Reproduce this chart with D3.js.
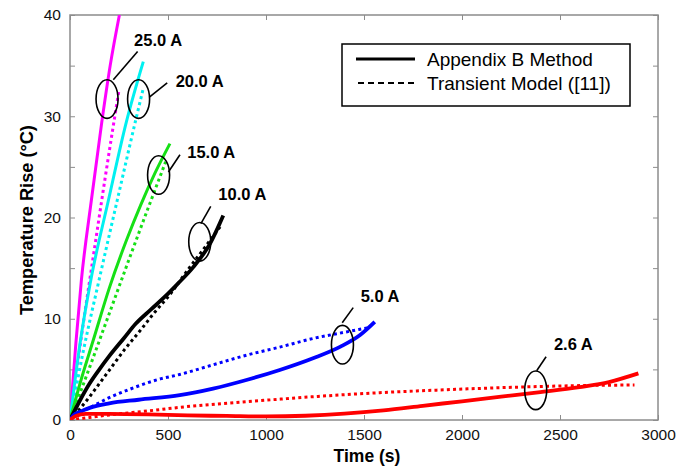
<!DOCTYPE html>
<html>
<head>
<meta charset="utf-8">
<script src="https://cdn.jsdelivr.net/npm/d3@7"></script>
<style>
  html, body { margin: 0; padding: 0; background: #fff; }
  svg { display: block; }
</style>
</head>
<body>
<svg id="chart" width="693" height="467"></svg>
<script>
// Axis ticks
const xTicks = [0, 500, 1000, 1500, 2000, 2500, 3000];
const yTicks = [0, 5, 10, 15, 20, 25, 30, 35, 40];
const yTickLabels = [0, 10, 20, 30, 40];

// Measured temperature rise (Appendix B Method), [time s, rise °C]
const measured25 = [[0,0],[30,7.6],[58,13.8],[109,21.7],[162,29.4],[205,35],[252,40]];
const measured20 = [[0,0],[50,7.4],[106,13.8],[196,21.7],[287,29.4],[374,35.4]];
const measured15 = [[0,0],[60,4.2],[119,7.9],[200,13],[289,17.8],[360,21.2],[434,24.4],[510,27.3]];
const measured10 = [[0,0],[50,1.9],[100,3.6],[150,5.0],[200,6.3],[276,8.1],[335,9.5],[412,10.9],[480,12.1],[547,13.4],[629,15.1],[714,17.4],[782,20.2]];
const measured5  = [[0,0],[20,0.5],[50,0.8],[100,1.2],[200,1.65],[350,2.0],[560,2.45],[730,3.1],[900,3.95],[1070,4.94],[1240,6.1],[1380,7.25],[1480,8.4],[1555,9.7]];
const measured26 = [[0,0],[30,0.4],[80,0.6],[200,0.6],[400,0.55],[600,0.45],[800,0.4],[1000,0.35],[1200,0.42],[1400,0.62],[1600,0.95],[1800,1.4],[2000,1.85],[2200,2.3],[2400,2.75],[2600,3.25],[2750,3.75],[2900,4.6]];

// Transient model ([11]) predictions, [time s, rise °C]
const model25 = [[0,0],[60,8.5],[120,16.3],[180,24],[250,32.6]];
const model20 = [[0,0],[70,7],[148,13.8],[241,21.7],[335,29.6],[372,32.6]];
const model15 = [[0,0],[100,5.2],[200,10.5],[300,15.8],[400,21],[488,25.5]];
const model10 = [[0,0],[50,1.1],[100,2.3],[150,3.6],[200,4.9],[280,7],[361,8.9],[430,10.6],[510,12.4],[600,14.8],[690,17.1],[774,19.3]];
const model5  = [[0,0],[50,0.7],[100,1.2],[200,2.2],[300,3.0],[450,4.0],[560,4.5],[730,5.45],[900,6.4],[1070,7.2],[1240,8.05],[1410,8.7],[1530,9.15]];
const model26 = [[0,0],[100,0.25],[200,0.5],[400,0.9],[560,1.25],[900,1.8],[1240,2.3],[1580,2.7],[1870,2.95],[2210,3.2],[2550,3.38],[2880,3.46]];

const currentLabels = ["25.0 A", "20.0 A", "15.0 A", "10.0 A", "5.0 A", "2.6 A"];
const seriesColors  = ["#ff00ff", "#00f0f0", "#16e016", "#000000", "#0000ff", "#ff0000"];
const measuredSets  = [measured25, measured20, measured15, measured10, measured5, measured26];
const modelSets     = [model25, model20, model15, model10, model5, model26];

// Callouts: ellipse centre, leader start/end and label anchor, in data units
const calloutEllipse = [[189,31.7],[350,31.7],[452,24.2],[662,17.6],[1390,7.44],[2376,2.93]];
const calloutLeaderFrom = [[221,33.6],[405,31.9],[502,24.5],[668,19.4],[1389,9.6],[2381,4.87]];
const calloutLeaderTo   = [[345,36.4],[496,33.3],[561,26.2],[718,21.1],[1445,11.1],[2429,6.25]];
const calloutLabelAt    = [[327,36.9],[539,32.9],[598,25.9],[757,21.7],[1483,11.7],[2469,6.9]];

const legendItems = ["Appendix B Method", "Transient Model ([11])"];

const svg = d3.select("#chart");
const plotL = 70, plotR = 658, plotT = 15, plotB = 420;

const x = d3.scaleLinear().domain([0, 3000]).range([plotL, plotR]);
const y = d3.scaleLinear().domain([0, 40]).range([plotB, plotT]);

const frameColor = "#8c8c8c";
const font = "'Liberation Sans', Arial, Helvetica, sans-serif";

svg.append("rect").attr("width", 693).attr("height", 467).attr("fill", "#fff");

svg.append("defs").append("clipPath").attr("id", "plot-clip")
  .append("rect").attr("x", plotL).attr("y", plotT)
  .attr("width", plotR - plotL).attr("height", plotB - plotT);

// Axes: inward ticks on all four sides
const tickLen = 5;
const axBottom = d3.axisBottom(x).tickValues(xTicks).tickSizeInner(-tickLen).tickSizeOuter(0)
  .tickPadding(9).tickFormat(d3.format("d"));
const axTop = d3.axisTop(x).tickValues(xTicks).tickSizeInner(-tickLen).tickSizeOuter(0).tickFormat("");
const axLeft = d3.axisLeft(y).tickValues(yTicks).tickSizeInner(-tickLen).tickSizeOuter(0).tickPadding(9)
  .tickFormat(d => yTickLabels.includes(d) ? d : "");
const axRight = d3.axisRight(y).tickValues(yTicks).tickSizeInner(-tickLen).tickSizeOuter(0).tickFormat("");

function styleAxis(g) {
  g.select(".domain").remove();
  g.selectAll(".tick line").attr("stroke", frameColor).attr("stroke-width", 1);
  g.selectAll(".tick text").attr("fill", "#111").style("font-family", font).style("font-size", "15.5px");
}
svg.append("g").attr("transform", `translate(0,${plotB})`).call(axBottom).call(styleAxis);
svg.append("g").attr("transform", `translate(0,${plotT})`).call(axTop).call(styleAxis);
svg.append("g").attr("transform", `translate(${plotL},0)`).call(axLeft).call(styleAxis);
svg.append("g").attr("transform", `translate(${plotR},0)`).call(axRight).call(styleAxis);

// Plot frame
svg.append("rect").attr("x", plotL).attr("y", plotT)
  .attr("width", plotR - plotL).attr("height", plotB - plotT)
  .attr("fill", "none").attr("stroke", frameColor).attr("stroke-width", 1.5);

// Curves
const line = d3.line().x(d => x(d[0])).y(d => y(d[1])).curve(d3.curveMonotoneX);
const plot = svg.append("g").attr("clip-path", "url(#plot-clip)");

modelSets.forEach((data, i) => {
  plot.append("path").datum(data).attr("d", line)
    .attr("fill", "none").attr("stroke", seriesColors[i])
    .attr("stroke-width", 3).attr("stroke-dasharray", "3,3.2");
});
measuredSets.forEach((data, i) => {
  plot.append("path").datum(data).attr("d", line)
    .attr("fill", "none").attr("stroke", seriesColors[i])
    .attr("stroke-width", i >= 3 ? 3.8 : 3).attr("stroke-linejoin", "round");
});

// Callouts
const callouts = svg.append("g");
currentLabels.forEach((label, i) => {
  const [ex, ey] = calloutEllipse[i];
  callouts.append("ellipse")
    .attr("cx", x(ex)).attr("cy", y(ey)).attr("rx", 11).attr("ry", 19.3)
    .attr("fill", "none").attr("stroke", "#000").attr("stroke-width", 1.6);
  callouts.append("line")
    .attr("x1", x(calloutLeaderFrom[i][0])).attr("y1", y(calloutLeaderFrom[i][1]))
    .attr("x2", x(calloutLeaderTo[i][0])).attr("y2", y(calloutLeaderTo[i][1]))
    .attr("stroke", "#000").attr("stroke-width", 1.6);
  callouts.append("text")
    .attr("x", x(calloutLabelAt[i][0])).attr("y", y(calloutLabelAt[i][1]))
    .attr("fill", "#000").style("font-family", font).style("font-weight", "bold")
    .style("font-size", "16.5px").text(label);
});

// Legend
const legend = svg.append("g");
legend.append("rect").attr("x", 342).attr("y", 44).attr("width", 288).attr("height", 62)
  .attr("fill", "#fff").attr("stroke", "#000").attr("stroke-width", 1.5);
legend.append("line").attr("x1", 356).attr("x2", 415).attr("y1", 59).attr("y2", 59)
  .attr("stroke", "#000").attr("stroke-width", 3);
legend.append("line").attr("x1", 358).attr("x2", 417).attr("y1", 83).attr("y2", 83)
  .attr("stroke", "#000").attr("stroke-width", 2).attr("stroke-dasharray", "6,4");
legendItems.forEach((t, i) => {
  legend.append("text").attr("x", 427).attr("y", 66 + i * 24)
    .attr("fill", "#000").style("font-family", font).style("font-size", "19px").text(t);
});

// Axis titles
svg.append("text").attr("x", (plotL + plotR) / 2 + 3).attr("y", 462)
  .attr("text-anchor", "middle").attr("fill", "#000")
  .style("font-family", font).style("font-weight", "bold").style("font-size", "17.5px")
  .text("Time (s)");
svg.append("text")
  .attr("transform", `translate(33,220) rotate(-90)`)
  .attr("text-anchor", "middle").attr("fill", "#000")
  .style("font-family", font).style("font-weight", "bold").style("font-size", "18.2px")
  .text("Temperature Rise (°C)");
</script>
</body>
</html>
